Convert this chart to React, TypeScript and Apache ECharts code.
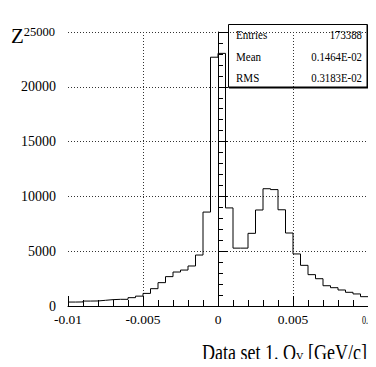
import React, { useEffect, useRef } from "react";
import * as echarts from "echarts";

// Histogram bin left edges (GeV/c), bin width 0.0005
const binLeftEdges = [
  -0.01, -0.0095, -0.009, -0.0085, -0.008, -0.0075, -0.007, -0.0065, -0.006, -0.0055,
  -0.005, -0.0045, -0.004, -0.0035, -0.003, -0.0025, -0.002, -0.0015, -0.001, -0.0005,
  0, 0.0005, 0.001, 0.0015, 0.002, 0.0025, 0.003, 0.0035, 0.004, 0.0045,
  0.005, 0.0055, 0.006, 0.0065, 0.007, 0.0075, 0.008, 0.0085, 0.009, 0.0095,
];
const binUpperEnd = 0.01;

// Counts per bin
const binCounts = [
  360, 370, 450, 460, 520, 580, 610, 610, 760, 900,
  1150, 1580, 2130, 2680, 3100, 3280, 3650, 4650, 8570, 22700,
  23050, 8950, 5280, 5280, 6630, 8760, 10700, 10620, 8780, 6660,
  4750, 3710, 2860, 2490, 1850, 1670, 1460, 1250, 1100, 850,
];

const xTickLabels = ["-0.01", "-0.005", "0", "0.005", "0.01"];
const xTickValues = [-0.01, -0.005, 0, 0.005, 0.01];
const yTickValues = [0, 5000, 10000, 15000, 20000, 25000];

const statsLabels = ["Entries", "Mean", "RMS"];
const statsValues = ["173388", "0.1464E-02", "0.3183E-02"];

const titleMain = "Data set 1. Q";
const titleSub = "Y";
const titleTail = " [GeV/c]";

const SERIF = "'Liberation Serif', 'DejaVu Serif', serif";

function measure(text: string, size: number): number {
  const c = document.createElement("canvas");
  const ctx = c.getContext("2d");
  if (!ctx) return text.length * size * 0.45;
  ctx.font = `${size}px ${SERIF}`;
  return ctx.measureText(text).width;
}

function txt(
  text: string,
  x: number,
  y: number,
  size: number,
  align: string,
  sx: number = 1,
) {
  return {
    type: "text",
    x,
    y,
    z: 101,
    scaleX: sx,
    scaleY: 1,
    style: {
      text,
      fill: "#000",
      fontSize: size,
      fontFamily: SERIF,
      textAlign: align,
      textVerticalAlign: "middle",
      align,
      verticalAlign: "middle",
    },
  };
}

export default function App() {
  const ref = useRef<HTMLDivElement>(null);

  useEffect(() => {
    if (!ref.current) return;
    const chart = echarts.init(ref.current, null, { renderer: "svg" });

    const data: [number, number][] = binLeftEdges.map((x, i) => [x, binCounts[i]]);
    data.push([binUpperEnd, binCounts[binCounts.length - 1]]);

    const statsRowY = [35, 57, 78];
    const statsGraphics: any[] = [];
    statsLabels.forEach((lab, i) => {
      statsGraphics.push(txt(lab, 236, statsRowY[i], 12, "left", 0.92));
      statsGraphics.push(txt(statsValues[i], 362, statsRowY[i], 12, "right", 0.9));
    });

    // x-axis title (condensed serif, with subscript)
    const mainSize = 24;
    const subSize = 14;
    const s = 0.75;
    const w1 = measure(titleMain, mainSize);
    const w2 = measure(titleSub, subSize);
    const w3 = measure(titleTail, mainSize);
    const total = (w1 + w2 + w3) * s;
    const x0 = 367 - total;
    const titleMid = 352;

    const option: any = {
      animation: false,
      backgroundColor: "#fff",
      grid: { left: 68, right: 8, top: 32, bottom: 61, containLabel: false },
      xAxis: {
        type: "value",
        min: -0.01,
        max: 0.01,
        interval: 0.005,
        axisLine: { show: true, onZero: false, lineStyle: { color: "#000", width: 1 } },
        axisTick: { show: true, inside: true, length: 10, lineStyle: { color: "#000" } },
        minorTick: { show: true, splitNumber: 5, length: 6, lineStyle: { color: "#000" } },
        splitLine: {
          show: true,
          showMinLine: false,
          lineStyle: { color: "#333", type: [1, 2], width: 1 },
        },
        axisLabel: {
          color: "#000",
          fontSize: 13.5,
          fontFamily: SERIF,
          margin: 6,
          formatter: (v: number) => {
            const idx = xTickValues.findIndex((t) => Math.abs(t - v) < 1e-9);
            if (idx < 0 || idx === xTickValues.length - 1) return "";
            return xTickLabels[idx];
          },
        },
      },
      yAxis: {
        type: "value",
        min: 0,
        max: 25000,
        interval: 5000,
        axisLine: { show: true, lineStyle: { color: "#000", width: 1 } },
        axisTick: { show: true, inside: true, length: 10, lineStyle: { color: "#000" } },
        minorTick: { show: true, splitNumber: 5, length: 5, lineStyle: { color: "#000" } },
        splitLine: {
          show: true,
          showMinLine: false,
          lineStyle: { color: "#333", type: [1, 2], width: 1 },
        },
        axisLabel: {
          color: "#000",
          fontSize: 14,
          fontFamily: SERIF,
          margin: 12,
          formatter: (v: number) => {
            const t = yTickValues.find((y) => Math.abs(y - v) < 1e-6);
            if (t === undefined) return "";
            return t === 25000 ? "{s|" + t + "}" : String(t);
          },
          rich: {
            s: { fontSize: 12.5, fontFamily: SERIF, color: "#000", padding: [0, 1, 0, 0] },
          },
        },
      },
      series: [
        {
          type: "line",
          step: "end",
          data,
          symbol: "none",
          lineStyle: { color: "#000", width: 1 },
          z: 5,
        },
      ],
      graphic: [
        txt("Z", 11, 36, 21, "left"),
        txt(xTickLabels[xTickLabels.length - 1], 362, 319, 13.5, "left", 0.6),
        {
          type: "rect",
          z: 100,
          shape: { x: 228.5, y: 24.5, width: 139, height: 63 },
          style: { fill: "none", stroke: "#000", lineWidth: 1 },
        },
        {
          type: "line",
          z: 100,
          shape: { x1: 229, y1: 87.5, x2: 368, y2: 87.5 },
          style: { stroke: "#000", lineWidth: 2 },
        },
        {
          type: "line",
          z: 100,
          shape: { x1: 367.5, y1: 25, x2: 367.5, y2: 88 },
          style: { stroke: "#000", lineWidth: 2 },
        },
        ...statsGraphics,
        txt(titleMain, x0, titleMid, mainSize, "left", s),
        txt(titleSub, x0 + w1 * s, titleMid + 6, subSize, "left", s),
        txt(titleTail, x0 + (w1 + w2) * s, titleMid, mainSize, "left", s),
      ],
    };

    chart.setOption(option);
    return () => chart.dispose();
  }, []);

  return <div ref={ref} style={{ width: 376, height: 367, margin: -8 }} />;
}
